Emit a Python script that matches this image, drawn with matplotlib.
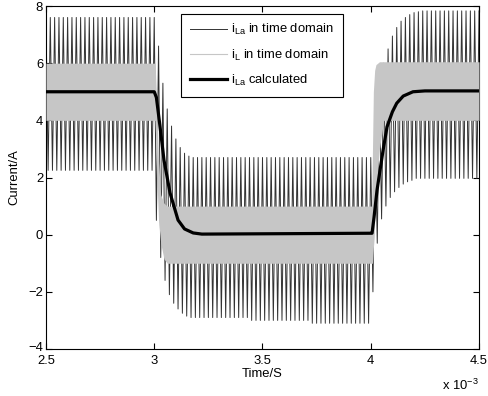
import numpy as np
import matplotlib
matplotlib.use('Agg')
import matplotlib.pyplot as plt
import matplotlib.transforms as mtransforms
from matplotlib.lines import Line2D

plt.rcParams['font.family'] = 'Liberation Sans'
plt.rcParams['mathtext.fontset'] = 'custom'
plt.rcParams['mathtext.rm'] = 'Liberation Sans'
plt.rcParams['mathtext.it'] = 'Liberation Sans'

# switching period of the phase current (ms), one peak + one trough per period
period = 0.02
t_start = 2.5

# i_La peaks, one per period (t = 2.50, 2.52, ... 4.50)
la_top = ([7.6] * 25
          + [7.6, 6.6, 5.3, 4.4, 3.8, 3.35, 3.05, 2.85, 2.75]
          + [2.7] * 41
          + [2.7, 3.8, 5.2, 6.0, 6.5, 6.95, 7.25, 7.47, 7.6, 7.7, 7.77, 7.8]
          + [7.83] * 14)
# i_La troughs, half a period later (t = 2.51, 2.53, ... 4.49)
la_bot = ([2.25] * 25
          + [0.5, -0.8, -1.6, -2.1, -2.4, -2.6, -2.75, -2.85]
          + [-2.9] * 14 + [-3.0] * 14 + [-3.1] * 14
          + [-2.0, -0.3, 0.55, 1.0, 1.3, 1.5, 1.65, 1.77, 1.85, 1.9]
          + [1.97] * 15)

# i_L ripple band (upper / lower edge)
t_L = [2.5, 3.004, 3.012, 3.02, 3.03, 3.045, 3.06, 4.004, 4.008, 4.012, 4.018,
       4.024, 4.04, 4.06, 4.5]
L_up = [6.0, 6.0, 4.5, 2.5, 1.4, 1.1, 1.0, 1.0, 3.0, 5.0, 5.75, 5.95, 6.05, 6.05, 6.05]
L_lo = [4.0, 4.0, 2.0, 0.5, -0.3, -0.85, -1.0, -1.0, -1.0, -0.5, 0.5, 1.5, 3.0, 4.0, 4.0]

# calculated i_La
t_calc = [2.5, 3.0, 3.01, 3.027, 3.045, 3.073, 3.11, 3.14, 3.18, 3.22, 4.0,
          4.006, 4.015, 4.029, 4.057, 4.075, 4.10, 4.12, 4.15, 4.195, 4.25, 4.5]
i_calc = [5.0, 5.0, 4.8, 3.77, 2.61, 1.46, 0.51, 0.2, 0.06, 0.02, 0.05,
          0.05, 0.6, 1.56, 2.96, 3.77, 4.3, 4.6, 4.85, 5.0, 5.03, 5.03]

xticks = [2.5, 3, 3.5, 4, 4.5]
yticks = [-4, -2, 0, 2, 4, 6, 8]

# interleave peaks and troughs
n = len(la_bot)
t_wave = np.empty(2 * n + 1)
i_wave = np.empty(2 * n + 1)
t_wave[0::2] = t_start + period * np.arange(n + 1)
t_wave[1::2] = t_start + period * (np.arange(n) + 0.5)
i_wave[0::2] = la_top
i_wave[1::2] = la_bot

fs = 9.4

fig = plt.figure(figsize=(4.89, 3.96), dpi=100)
ax = fig.add_axes([0.094, 0.1187, 0.8856, 0.8661])

ax.plot(t_wave, i_wave, color='#333333', lw=0.7, zorder=2)
ax.fill_between(t_L, L_lo, L_up, color='#c6c6c6', lw=0, zorder=3)
ax.plot(t_calc, i_calc, color='black', lw=2.3, zorder=4)

ax.set_xlim(2.5, 4.5)
ax.set_ylim(-4, 8)
ax.set_xticks(xticks)
ax.set_xticklabels(['%g' % v for v in xticks])
ax.set_yticks(yticks)
ax.tick_params(direction='in', top=True, right=True, length=4, width=0.8,
               labelsize=fs)
ax.tick_params(axis='x', pad=4)
ax.tick_params(axis='y', pad=2)
for s in ax.spines.values():
    s.set_linewidth(0.8)

# lift the "-4" label a little, like the original
lbl = ax.get_yticklabels()[0]
lbl.set_transform(lbl.get_transform() +
                  mtransforms.ScaledTranslation(0, 2 / 100, fig.dpi_scale_trans))

ax.set_xlabel('Time/S', fontsize=fs, labelpad=1)
ax.set_ylabel('Current/A', fontsize=fs)
ax.yaxis.set_label_coords(-0.058, 0.5)
fig.text(0.978, 0.008, r'x 10$^{-3}$', fontsize=fs, ha='right', va='bottom')

handles = [Line2D([], [], color='#333333', lw=0.7),
           Line2D([], [], color='#c6c6c6', lw=0.8),
           Line2D([], [], color='black', lw=2.3)]
labels = [r'$\mathrm{i}_{\mathrm{La}}$ in time domain',
          r'$\mathrm{i}_{\mathrm{L}}$ in time domain',
          r'$\mathrm{i}_{\mathrm{La}}$ calculated']
leg = ax.legend(handles, labels, loc='upper left', bbox_to_anchor=(0.312, 0.977),
                borderaxespad=0, fancybox=False, edgecolor='black', framealpha=1,
                fontsize=fs, handlelength=2.9, handletextpad=0.3,
                labelspacing=0.78, borderpad=0.65)
leg.get_frame().set_linewidth(0.8)
leg.set_zorder(5)

fig.savefig('out.png', dpi=100)
